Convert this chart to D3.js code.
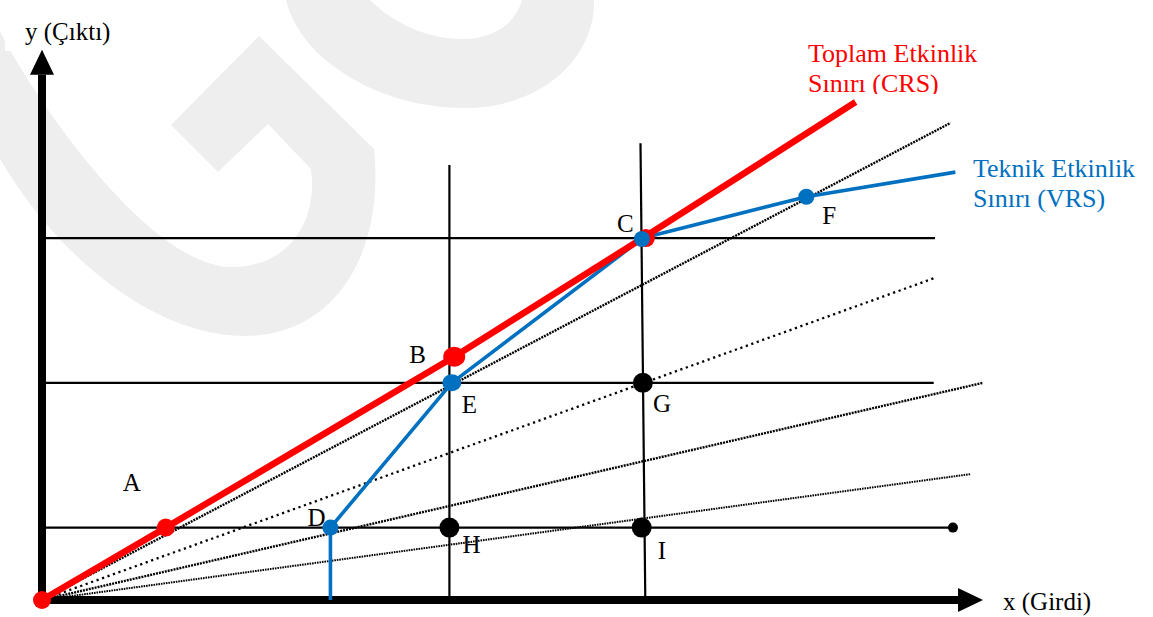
<!DOCTYPE html>
<html>
<head>
<meta charset="utf-8">
<script src="https://cdn.jsdelivr.net/npm/d3@7"></script>
<style>
  body { margin: 0; background: #fff; }
  svg { display: block; }
  text { font-family: 'Liberation Serif', 'Times New Roman', serif; }
</style>
</head>
<body>
<div id="chart"></div>
<script>
// points of the diagram, in input (x) / output (y) units
const pointNames = ['A', 'B', 'C', 'D', 'E', 'F', 'G', 'H', 'I'];
const pointX = [1.03, 3.43, 5.0, 2.4, 3.41, 6.36, 5.0, 3.39, 4.99];
const pointY = [1.0, 3.36, 5.0, 1.0, 3.0, 5.57, 3.0, 1.0, 1.0];
const pointKind = ['crs', 'crs', 'both', 'vrs', 'vrs', 'vrs', 'plain', 'plain', 'plain'];

// frontiers
const crsX = [0, 1.03, 3.43, 5.0, 6.77];
const crsY = [0, 1.0, 3.36, 5.0, 6.88];
const vrsX = [2.4, 2.4, 3.41, 5.0, 6.36, 7.6];
const vrsY = [0, 1.0, 3.0, 5.0, 5.57, 5.91];

// rays from the origin (end points)
const rayX = [7.56, 7.43, 7.83, 7.73];
const rayY = [6.59, 4.45, 3.0, 1.74];
const rayStyle = ['dense', 'sparse', 'dense', 'fine'];

// reference lines
const levelY = [1, 3, 5];
const levelEnd = [7.58, 7.42, 7.43];
const columnBottomX = [3.39, 5.02];
const columnTopX = [3.39, 4.98];
const columnTopY = [6.01, 6.31];

const xMax = 7.83, yMax = 7.6;

const width = 1153, height = 617;
const svg = d3.select('#chart').append('svg')
  .attr('width', width)
  .attr('height', height);

const x = d3.scaleLinear().domain([0, xMax]).range([42, 983]);
const y = d3.scaleLinear().domain([0, yMax]).range([600, 49.8]);

const RED = '#ff0000';
const BLUE = '#0070c0';

// faint background watermark
const wm = svg.append('g').attr('fill', '#eeeeee');
wm.append('path')
  .attr('d', 'M259,36 L374,149 C385,260 330,336 245,336 C150,336 50,250 -5,150 L-5,20 ' +
    'C10,60 140,267 232,267 C290,267 318,220 311,169 L268,124 L218,172 L171,125 Z');
wm.append('path')
  .attr('d', 'M286,0 C300,60 380,108 464,108 C545,108 596,55 594,0 L522,0 ' +
    'C515,25 492,39 462,39 C430,39 395,25 370,0 Z');
svg.append('rect').attr('x', 0).attr('y', 0).attr('width', 172).attr('height', 4).attr('fill', '#fff');
svg.append('rect').attr('x', 5).attr('y', 3).attr('width', 167).attr('height', 48).attr('fill', '#fff');

// horizontal levels
svg.append('g').selectAll('line')
  .data(levelY)
  .enter()
  .append('line')
  .attr('x1', x(0))
  .attr('x2', (d, i) => x(levelEnd[i]))
  .attr('y1', (d) => y(d))
  .attr('y2', (d) => y(d))
  .attr('stroke', '#000')
  .attr('stroke-width', 2.2);

svg.append('circle')
  .attr('cx', x(levelEnd[0]))
  .attr('cy', y(levelY[0]))
  .attr('r', 5)
  .attr('fill', '#000');

// vertical columns
svg.append('g').selectAll('line')
  .data(columnBottomX)
  .enter()
  .append('line')
  .attr('x1', (d) => x(d))
  .attr('y1', y(0))
  .attr('x2', (d, i) => x(columnTopX[i]))
  .attr('y2', (d, i) => y(columnTopY[i]))
  .attr('stroke', '#000')
  .attr('stroke-width', 2.2);

// rays from origin
const dash = { dense: '2,1', sparse: '2.2,3.6', fine: '1.6,0.9' };
const dashWidth = { dense: 2.4, sparse: 2.3, fine: 2 };
svg.append('g').selectAll('line')
  .data(rayX)
  .enter()
  .append('line')
  .attr('x1', x(0))
  .attr('y1', y(0))
  .attr('x2', (d) => x(d))
  .attr('y2', (d, i) => y(rayY[i]))
  .attr('stroke', '#000')
  .attr('stroke-width', (d, i) => dashWidth[rayStyle[i]])
  .attr('stroke-dasharray', (d, i) => dash[rayStyle[i]]);

// axes with arrow heads
const AXIS_W = 8, HEAD_L = 25, HEAD_W = 12;
svg.append('line')
  .attr('x1', x(0)).attr('y1', y(0) + 4)
  .attr('x2', x(0)).attr('y2', y(yMax) + HEAD_L)
  .attr('stroke', '#000').attr('stroke-width', AXIS_W);
svg.append('line')
  .attr('x1', x(0) - 4).attr('y1', y(0))
  .attr('x2', x(xMax) - HEAD_L).attr('y2', y(0))
  .attr('stroke', '#000').attr('stroke-width', AXIS_W);
svg.append('path')
  .attr('d', `M${x(0)},${y(yMax)} L${x(0) + HEAD_W},${y(yMax) + HEAD_L} L${x(0) - HEAD_W},${y(yMax) + HEAD_L} Z`)
  .attr('fill', '#000');
svg.append('path')
  .attr('d', `M${x(xMax)},${y(0)} L${x(xMax) - HEAD_L},${y(0) - HEAD_W} L${x(xMax) - HEAD_L},${y(0) + HEAD_W} Z`)
  .attr('fill', '#000');

// frontiers
const line = d3.line().x((d) => x(d[0])).y((d) => y(d[1]));
svg.append('path')
  .attr('d', line(vrsX.map((v, i) => [v, vrsY[i]])))
  .attr('fill', 'none')
  .attr('stroke', BLUE)
  .attr('stroke-width', 3.6)
  .attr('stroke-linejoin', 'round');
svg.append('path')
  .attr('d', line(crsX.map((v, i) => [v, crsY[i]])))
  .attr('fill', 'none')
  .attr('stroke', RED)
  .attr('stroke-width', 6.5)
  .attr('stroke-linejoin', 'round');

// points
const pts = pointNames.map((n, i) => ({ name: n, x: pointX[i], y: pointY[i], kind: pointKind[i] }));

svg.append('g').selectAll('circle')
  .data(pts.filter((d) => d.kind === 'plain'))
  .enter()
  .append('circle')
  .attr('cx', (d) => x(d.x))
  .attr('cy', (d) => y(d.y))
  .attr('r', 10)
  .attr('fill', '#000');

svg.append('g').selectAll('ellipse')
  .data(pts.filter((d) => d.kind === 'crs' || d.kind === 'both').concat([{ name: 'O', x: 0, y: 0 }]))
  .enter()
  .append('ellipse')
  .attr('cx', (d) => x(d.x) + (d.kind === 'both' ? 3 : 0))
  .attr('cy', (d) => y(d.y))
  .attr('rx', (d) => (d.name === 'B' ? 11 : 9))
  .attr('ry', (d) => (d.name === 'B' ? 10 : 9))
  .attr('fill', RED);

svg.append('g').selectAll('ellipse')
  .data(pts.filter((d) => d.kind === 'vrs' || d.kind === 'both'))
  .enter()
  .append('ellipse')
  .attr('cx', (d) => x(d.x) - (d.kind === 'both' ? 1 : 0))
  .attr('cy', (d) => y(d.y) + (d.kind === 'both' ? 1 : 0))
  .attr('rx', (d) => (d.name === 'E' ? 9.5 : 8))
  .attr('ry', (d) => (d.name === 'E' ? 8.5 : 8))
  .attr('fill', BLUE);

// point labels
const labelOffset = {
  A: [-43, -37], B: [-45, 6], C: [-26, -6], D: [-23, -2], E: [10, 30],
  F: [16, 27], G: [10, 29], H: [13, 25], I: [16, 31],
};
svg.append('g').selectAll('text')
  .data(pts)
  .enter()
  .append('text')
  .attr('x', (d) => x(d.x) + labelOffset[d.name][0])
  .attr('y', (d) => y(d.y) + labelOffset[d.name][1])
  .attr('font-size', 25)
  .attr('fill', '#000')
  .text((d) => d.name);

// axis titles
svg.append('text')
  .attr('x', 25).attr('y', 40)
  .attr('font-size', 25)
  .text('y (Çıktı)');
svg.append('text')
  .attr('x', 1003).attr('y', 610)
  .attr('font-size', 25)
  .text('x (Girdi)');

// frontier captions
svg.append('clipPath').attr('id', 'crsclip')
  .append('rect').attr('x', 780).attr('y', 30).attr('width', 260).attr('height', 64);
const crsText = svg.append('text')
  .attr('font-size', 26)
  .attr('fill', RED)
  .attr('clip-path', 'url(#crsclip)');
crsText.append('tspan').attr('x', 808).attr('y', 62).text('Toplam Etkinlik');
crsText.append('tspan').attr('x', 808).attr('y', 92).text('Sınırı (CRS)');

const vrsText = svg.append('text')
  .attr('font-size', 26)
  .attr('fill', BLUE);
vrsText.append('tspan').attr('x', 973).attr('y', 177).text('Teknik Etkinlik');
vrsText.append('tspan').attr('x', 973).attr('y', 207).text('Sınırı (VRS)');
</script>
</body>
</html>
